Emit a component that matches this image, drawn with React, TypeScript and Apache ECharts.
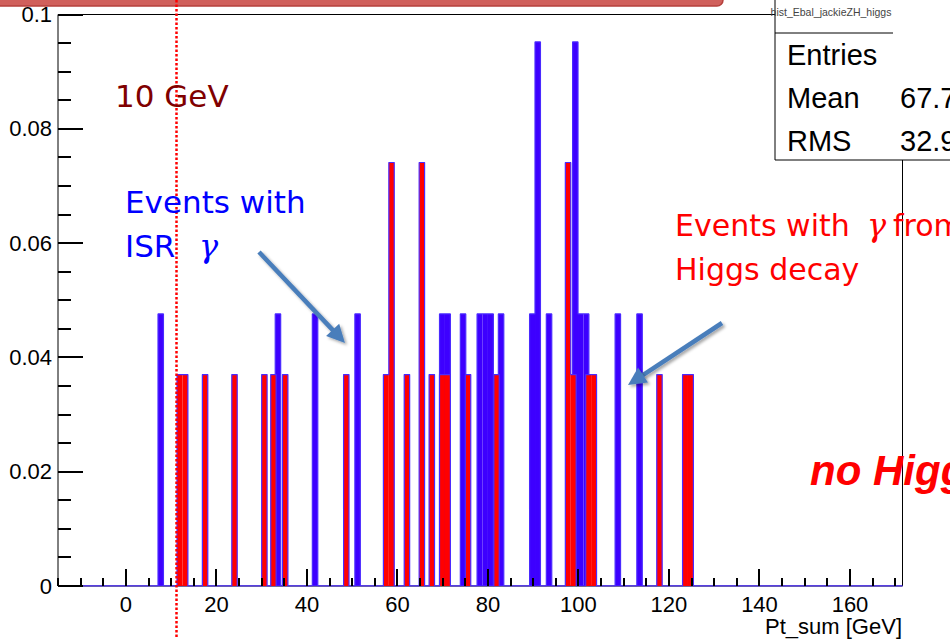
import React, { useEffect, useRef } from "react";
import * as echarts from "echarts";

// ---- data ----
const BIN_WIDTH = 1.2; // GeV
const X_MIN = -15;
const X_MAX = 171.6;
const Y_MIN = 0;
const Y_MAX = 0.1;

const xMajorTicks = [0, 20, 40, 60, 80, 100, 120, 140, 160];
const xMinorTicks = [-15, -10, -5, 5, 10, 15, 25, 30, 35, 45, 50, 55, 65, 70, 75, 85, 90, 95, 105, 110, 115, 125, 130, 135, 145, 150, 155, 165, 170];
const yMajorTicks = [0, 0.02, 0.04, 0.06, 0.08, 0.1];
const yMinorTicks = [0.005, 0.01, 0.015, 0.025, 0.03, 0.035, 0.045, 0.05, 0.055, 0.065, 0.07, 0.075, 0.085, 0.09, 0.095];
const X_LABEL_STEP = 5;
const Y_LABEL_STEP = 0.02;

// ISR photon events (blue histogram): bin centres and normalised contents
const blueCenters = [7.7, 33.6, 41.8, 51.2, 69.9, 71.1, 74.5, 78.2, 79.4, 80.6, 82.9, 89.8, 91.0, 93.5, 99.3, 100.5, 101.7, 108.7, 113.5];
const blueValues = [0.0476, 0.0476, 0.0476, 0.0476, 0.0476, 0.0476, 0.0476, 0.0476, 0.0476, 0.0476, 0.0476, 0.0476, 0.0952, 0.0476, 0.0952, 0.0476, 0.0476, 0.0476, 0.0476];

// Higgs-decay photon events (red histogram)
const redCenters = [11.9, 13.1, 17.5, 24.0, 30.6, 32.6, 35.2, 48.7, 57.5, 58.7, 62.1, 65.4, 67.6, 69.9, 71.1, 75.6, 81.9, 97.7, 98.9, 102.2, 103.4, 117.9, 123.6, 124.8];
const redValues = [0.037, 0.037, 0.037, 0.037, 0.037, 0.037, 0.037, 0.037, 0.037, 0.0741, 0.037, 0.0741, 0.037, 0.037, 0.037, 0.037, 0.037, 0.0741, 0.037, 0.037, 0.037, 0.037, 0.037, 0.037];

const statsLabels = ["Entries", "Mean", "RMS"];
const statsValues = ["", "67.7", "32.9"];

const BLUE_FILL = "#3d00ff";
const RED_FILL = "#ff0000";
const OUTLINE = "#4a2aff";

// layout
const W = 950;
const H = 639;
const G_LEFT = 58;
const G_RIGHT = 47.5;
const G_TOP = 14.5;
const G_BOTTOM = 53;

function toPairs(c: number[], v: number[]) {
  return c.map((x, i) => [x, v[i]]);
}

function outline(bars: number[][]) {
  const sorted = [...bars].sort((a, b) => a[0] - b[0]);
  const pts: number[][] = [[X_MIN, 0]];
  let prevR: number | null = null;
  let prevH = 0;
  for (const [c, h] of sorted) {
    const l = c - BIN_WIDTH / 2;
    const r = c + BIN_WIDTH / 2;
    if (prevR === null || Math.abs(l - prevR) > 0.01) {
      if (prevR !== null) pts.push([prevR, 0]);
      pts.push([l, 0]);
    } else {
      pts.push([l, prevH]);
    }
    pts.push([l, h], [r, h]);
    prevR = r;
    prevH = h;
  }
  if (prevR !== null) pts.push([prevR, 0]);
  pts.push([X_MAX, 0]);
  return pts;
}

function histSeries(bars: number[][], fill: string, z: number) {
  return {
    type: "custom",
    z,
    clip: true,
    silent: true,
    data: bars,
    renderItem: (params: any, api: any) => {
      const c = api.value(0);
      const h = api.value(1);
      const p0 = api.coord([c - BIN_WIDTH / 2, h]);
      const p1 = api.coord([c + BIN_WIDTH / 2, 0]);
      return {
        type: "rect",
        shape: { x: p0[0], y: p0[1], width: p1[0] - p0[0], height: p1[1] - p0[1] },
        style: { fill },
      };
    },
  };
}

function outlineSeries(bars: number[][], z: number) {
  return {
    type: "line",
    z,
    data: outline(bars),
    showSymbol: false,
    symbol: "none",
    clip: true,
    lineStyle: { color: OUTLINE, width: 1.2 },
    silent: true,
  };
}

function arrow(sx: number, sy: number, tx: number, ty: number) {
  const dx = tx - sx;
  const dy = ty - sy;
  const len = Math.sqrt(dx * dx + dy * dy);
  const ux = dx / len;
  const uy = dy / len;
  const hl = 18;
  const hw = 9;
  const bx = tx - hl * ux;
  const by = ty - hl * uy;
  const nx = -uy;
  const ny = ux;
  const shadow = { shadowBlur: 3, shadowColor: "rgba(0,0,0,0.35)", shadowOffsetX: 2, shadowOffsetY: 2 };
  return [
    {
      type: "line",
      z: 120,
      shape: { x1: sx, y1: sy, x2: bx + ux * 2, y2: by + uy * 2 },
      style: { stroke: "#4a7ebb", lineWidth: 4.5, ...shadow },
    },
    {
      type: "polygon",
      z: 121,
      shape: { points: [[tx, ty], [bx + hw * nx, by + hw * ny], [bx - hw * nx, by - hw * ny]] },
      style: { fill: "#4a7ebb", ...shadow },
    },
  ];
}

const AXIS_FONT = "Liberation Sans";
const NOTE_FONT = "DejaVu Sans";

function fmtY(v: number) {
  const r = Number(v.toFixed(4));
  return yMajorTicks.includes(r) ? String(r) : "";
}
function fmtX(v: number) {
  const r = Number(v.toFixed(2));
  return xMajorTicks.includes(r) ? String(r) : "";
}

function text(x: number, y: number, t: string, fill: string, font: string, align = "left") {
  return { type: "text", z: 116, x, y, style: { text: t, fill, font, align, verticalAlign: "middle" } };
}

export default function App() {
  const ref = useRef<HTMLDivElement>(null);
  useEffect(() => {
    if (!ref.current) return;
    const chart = echarts.init(ref.current, null, { renderer: "svg" });
    const blue = toPairs(blueCenters, blueValues);
    const red = toPairs(redCenters, redValues);

    const option: any = {
      animation: false,
      backgroundColor: "#fff",
      grid: {
        left: G_LEFT,
        top: G_TOP,
        right: G_RIGHT,
        bottom: G_BOTTOM,
        show: true,
        borderColor: "#000",
        borderWidth: 1,
        backgroundColor: "transparent",
      },
      xAxis: {
        type: "value",
        min: X_MIN,
        max: X_MAX,
        interval: X_LABEL_STEP,
        axisLine: { show: false, onZero: false },
        splitLine: { show: false },
        axisTick: { show: false },
        axisLabel: { show: true, margin: 7, color: "#000", fontSize: 22, fontFamily: AXIS_FONT, formatter: fmtX },
      },
      yAxis: {
        type: "value",
        min: Y_MIN,
        max: Y_MAX,
        interval: Y_LABEL_STEP,
        axisLine: { show: false, onZero: false },
        splitLine: { show: false },
        axisTick: { show: false },
        axisLabel: { show: true, margin: 6, color: "#000", fontSize: 22, fontFamily: AXIS_FONT, formatter: fmtY },
      },
      series: [
        histSeries(blue, BLUE_FILL, 2),
        outlineSeries(blue, 3),
        histSeries(red, RED_FILL, 4),
        outlineSeries(red, 5),
      ],
    };
    chart.setOption(option);

    // ROOT-style ticks pointing into the frame; positions from the axes' scales
    const plotW = W - G_LEFT - G_RIGHT;
    const plotH = H - G_TOP - G_BOTTOM;
    const toPx = (x: number, y: number) => {
      let p: any = null;
      try {
        p = chart.convertToPixel({ xAxisIndex: 0, yAxisIndex: 0 } as any, [x, y]);
      } catch (e) {
        p = null;
      }
      if (!p || !isFinite(p[0]) || !isFinite(p[1])) {
        p = [G_LEFT + ((x - X_MIN) / (X_MAX - X_MIN)) * plotW, G_TOP + (1 - (y - Y_MIN) / (Y_MAX - Y_MIN)) * plotH];
      }
      return p as number[];
    };
    const ticks: any[] = [];
    const addX = (v: number, len: number) => {
      const p = toPx(v, Y_MIN);
      ticks.push({ type: "rect", z: 200, shape: { x: Math.round(p[0]) - 1, y: p[1] - len, width: 2, height: len }, style: { fill: "#000" } });
    };
    const addY = (v: number, len: number) => {
      const p = toPx(X_MIN, v);
      ticks.push({ type: "rect", z: 200, shape: { x: p[0], y: Math.round(p[1]) - 1, width: len, height: 2 }, style: { fill: "#000" } });
    };
    xMajorTicks.forEach((v) => addX(v, 17));
    xMinorTicks.forEach((v) => addX(v, 8));
    yMajorTicks.forEach((v) => addY(v, 25));
    yMinorTicks.forEach((v) => addY(v, 13));

    const statsTexts: any[] = [];
    statsLabels.forEach((t, i) => {
      statsTexts.push({ ...text(787, 55 + i * 43, t, "#000", `29px "${AXIS_FONT}"`), z: 132 });
      if (statsValues[i]) statsTexts.push({ ...text(900, 55 + i * 43, statsValues[i], "#000", `29px "${AXIS_FONT}"`), z: 132 });
    });

    chart.setOption({
      graphic: {
        elements: [
          // slide frame remnant at the top
          {
            type: "rect",
            z: 110,
            shape: { x: -12, y: -20, width: 735, height: 26, r: 6 },
            style: { fill: "#d0605c", stroke: "#b5403c", lineWidth: 1.5 },
          },
          // 10 GeV cut line
          {
            type: "line",
            z: 115,
            shape: { x1: 176.5, y1: 0, x2: 176.5, y2: 639 },
            style: { stroke: "#ff0000", lineWidth: 2.5, lineDash: [2.5, 2] },
          },
          text(115, 96, "10 GeV", "#800000", `31px "${NOTE_FONT}"`),
          text(125, 202, "Events with", "#0000ff", `31px "${NOTE_FONT}"`),
          text(125, 246, "ISR", "#0000ff", `31px "${NOTE_FONT}"`),
          text(199, 246, "γ", "#0000ff", `italic 32px "DejaVu Serif"`),
          text(675, 225, "Events with", "#ff0000", `30px "${NOTE_FONT}"`),
          text(867, 225, "γ", "#ff0000", `italic 32px "DejaVu Serif"`),
          text(893, 225, "from", "#ff0000", `30px "${NOTE_FONT}"`),
          text(675, 269, "Higgs decay", "#ff0000", `30px "${NOTE_FONT}"`),
          text(810, 470, "no Higgs", "#ff0000", `italic bold 42px "Liberation Sans"`),
          ...arrow(259, 252, 345, 343),
          ...arrow(722, 323, 628, 385),
          // stats box
          {
            type: "rect",
            z: 130,
            shape: { x: 775, y: -2, width: 200, height: 162 },
            style: { fill: "#fff", stroke: "#000", lineWidth: 1 },
          },
          {
            type: "line",
            z: 131,
            shape: { x1: 775, y1: 33, x2: 893, y2: 33 },
            style: { stroke: "#000", lineWidth: 1 },
          },
          { ...text(831, 12, "hist_Ebal_jackieZH_higgs", "#444", `10.5px "${AXIS_FONT}"`, "center"), z: 132 },
          ...statsTexts,
          text(902, 626, "Pt_sum [GeV]", "#000", `22px "${AXIS_FONT}"`, "right"),
          ...ticks,
        ],
      },
    });
    return () => chart.dispose();
  }, []);
  return <div ref={ref} style={{ position: "fixed", left: 0, top: 0, width: 950, height: 639 }} />;
}
